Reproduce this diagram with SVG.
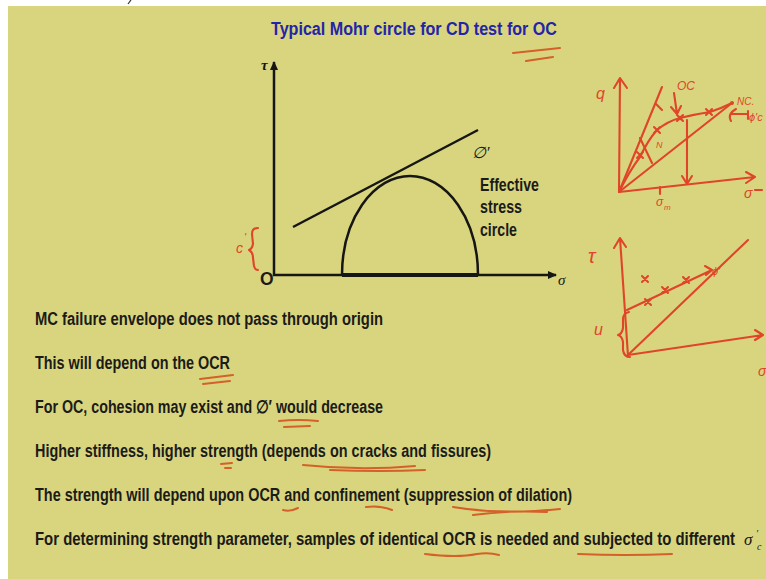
<svg xmlns="http://www.w3.org/2000/svg" width="766" height="579" viewBox="0 0 766 579">
<style>
.bt{font-family:"Liberation Sans Narrow","Liberation Sans",Arial,sans-serif;font-weight:bold;font-size:17.5px;fill:#1b1b18}
.ttl{font-family:"Liberation Sans Narrow","Liberation Sans",Arial,sans-serif;font-weight:bold;font-size:18px;fill:#2424a8}
.ax{stroke:#161614;stroke-width:2.5;fill:none}
.hw{stroke:#e0452a;stroke-width:2.1;fill:none;stroke-linecap:round;stroke-linejoin:round}
.ul{stroke:#d4602a;stroke-width:2;fill:none;stroke-linecap:round}
.ht{font-family:"Liberation Sans",Arial,sans-serif;fill:#e0452a;font-style:italic}
.sym{font-family:"Liberation Serif","DejaVu Serif",serif;font-style:italic;fill:#161614}
</style>
<defs>
<marker id="ah" markerWidth="10" markerHeight="10" refX="8" refY="5" orient="auto" markerUnits="userSpaceOnUse">
<path d="M0,1 L9,5 L0,9 Z" fill="#161614"/>
</marker>
</defs>
<rect x="0" y="0" width="766" height="579" fill="#ffffff"/>
<rect x="8" y="6" width="758" height="573" fill="#d9d57e"/>
<line x1="128" y1="4" x2="131" y2="0" stroke="#333" stroke-width="1.2"/>

<g id="title">
<text class="ttl" x="271" y="35" textLength="286" lengthAdjust="spacingAndGlyphs">Typical Mohr circle for CD test for OC</text>
<path class="ul" d="M513,53 L560,48 M526,61 L553,57"/>
</g>

<g id="mohr-chart">
<line class="ax" x1="274" y1="276" x2="274" y2="62" marker-end="url(#ah)"/>
<line class="ax" x1="273" y1="275" x2="556" y2="275" marker-end="url(#ah)"/>
<text class="sym" x="261" y="70" font-size="15" font-weight="bold">τ</text>
<text class="bt" x="260" y="285" font-size="16">O</text>
<text class="sym" x="558" y="285" font-size="15">σ</text>
<line class="ax" x1="293" y1="227" x2="478" y2="130"/>
<path class="ax" d="M342,275 A68,99 0 0 1 478,275"/>
<line x1="342" y1="275" x2="478" y2="275" stroke="#161614" stroke-width="4"/>
<text class="sym" x="472" y="158" font-size="16">∅′</text>
<text class="bt" x="480" y="191" textLength="59" lengthAdjust="spacingAndGlyphs">Effective</text>
<text class="bt" x="480" y="213" textLength="42" lengthAdjust="spacingAndGlyphs">stress</text>
<text class="bt" x="480" y="236" textLength="37" lengthAdjust="spacingAndGlyphs">circle</text>
<text class="ht" x="236" y="253" font-size="14">c</text>
<text class="ht" x="244" y="241" font-size="11">'</text>
<path class="hw" d="M258,228 Q252,228 252,234 L253,244 Q252,249 249,250 Q253,252 253,258 L254,266 Q255,270 258,270"/>
</g>

<g id="sketch-q-p">
<path class="hw" d="M619,192 L620,78 M614,88 L620,78 L627,88"/>
<path class="hw" d="M619,192 L755,177 M746,172 L755,177 L746,183"/>
<text class="ht" x="596" y="99" font-size="16">q</text>
<text class="ht" x="744" y="198" font-size="14">σ</text>
<path class="hw" d="M755,190 L762,190"/>
<path class="hw" d="M619,192 L662,87"/>
<text class="ht" x="677" y="90" font-size="12">OC</text>
<path class="hw" d="M674,93 L677,114 M671,107 L677,114 L681,106"/>
<path class="hw" d="M619,192 Q630,170 640,157 Q648,140 657,130 Q668,121 680,118 Q696,114 710,112 Q722,108 732,103"/>
<path class="hw" d="M619,192 L732,103"/>
<path class="hw" d="M637,152 L643,158 M643,152 L637,158 M654,127 L660,133 M660,127 L654,133 M677,115 L683,121 M683,115 L677,121 M706,109 L712,115 M712,109 L706,115 M656,104 L662,110"/>
<circle cx="680" cy="118" r="2.2" fill="#e0452a"/>
<circle cx="732" cy="103" r="2" fill="#e0452a"/>
<path class="hw" d="M687,120 L687,184 M682,176 L687,184 L692,176"/>
<path class="hw" d="M640,138 L652,163"/>
<text class="ht" x="656" y="148" font-size="9">N</text>
<text class="ht" x="737" y="105" font-size="10">NC.</text>
<path class="hw" d="M736,109 Q727,114 731,121 M731,114 L747,114 M748,111 L748,119"/>
<text class="ht" x="749" y="121" font-size="11">ϕ'c</text>
<path class="hw" d="M660,187 L660,194"/>
<text class="ht" x="656" y="206" font-size="12">σ</text>
<text class="ht" x="664" y="210" font-size="8">m</text>
</g>

<g id="sketch-tau-sigma">
<path class="hw" d="M628,356 L620,238 M614,248 L620,238 L626,247"/>
<text class="ht" x="588" y="263" font-size="20" font-style="normal">τ</text>
<path class="hw" d="M628,355 L748,240"/>
<path class="hw" d="M627,310 L712,270 M705,266 L712,270 L706,275"/>
<text class="ht" x="712" y="275" font-size="11">ϕ'</text>
<path class="hw" d="M642,276 L648,282 M648,276 L642,282 M645,299 L651,305 M651,299 L645,305 M662,287 L668,293 M668,287 L662,293 M683,277 L689,283 M689,277 L683,283"/>
<path class="hw" d="M628,355 L763,335 M755,330 L763,335 L755,340"/>
<text class="ht" x="758" y="376" font-size="14">σ</text>
<path class="hw" d="M629,312 Q623,313 623,320 L623,328 Q622,334 618,335 Q622,336 623,342 L623,350 Q624,357 630,357"/>
<text class="ht" x="594" y="335" font-size="16">u</text>
</g>

<g id="notes">
<text class="bt" transform="translate(35,325) scale(0.82,1)" textLength="424.4" lengthAdjust="spacingAndGlyphs">MC failure envelope does not pass through origin</text>
<text class="bt" transform="translate(35,369) scale(0.82,1)" textLength="237.8" lengthAdjust="spacingAndGlyphs">This will depend on the OCR</text>
<path class="ul" d="M200,379 L233,375 M203,384 L230,381"/>
<text class="bt" transform="translate(35,413) scale(0.82,1)" textLength="424.4" lengthAdjust="spacingAndGlyphs">For OC, cohesion may exist and ∅′ would decrease</text>
<path class="ul" d="M279,421 Q298,419 318,421 M284,427 L310,426"/>
<text class="bt" transform="translate(35,457) scale(0.82,1)" textLength="556.1" lengthAdjust="spacingAndGlyphs">Higher stiffness, higher strength (depends on cracks and fissures)</text>
<path class="ul" d="M221,464 L232,463 M225,468 L231,468 M303,465 Q360,471 415,466 M330,470 Q380,472 425,470"/>
<text class="bt" transform="translate(35,501) scale(0.82,1)" textLength="654.9" lengthAdjust="spacingAndGlyphs">The strength will depend upon OCR and confinement (suppression of dilation)</text>
<path class="ul" d="M283,510 Q290,512 298,508 M366,507 Q380,505 392,510 M453,507 Q500,515 560,509 M473,515 Q510,510 547,512"/>
<text class="bt" transform="translate(35,545) scale(0.82,1)" textLength="853.7" lengthAdjust="spacingAndGlyphs">For determining strength parameter, samples of identical OCR is needed and subjected to different</text>
<text class="sym" x="744" y="545" font-size="17">σ</text>
<text class="sym" x="756" y="537" font-size="10">′</text>
<text class="sym" x="757" y="550" font-size="10">c</text>
<path class="ul" d="M425,554 Q457,558 477,554 Q489,552 499,555 M578,554 Q625,556 672,554"/>
</g>
</svg>
